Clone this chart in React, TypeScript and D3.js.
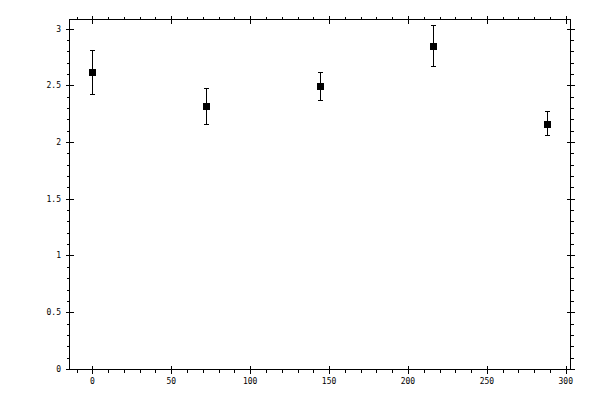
import React from "react";
import * as d3 from "d3";

const xValues = [0, 72, 144, 216, 288];
const yValues = [2.62, 2.32, 2.49, 2.85, 2.16];
const yUpper = [2.81, 2.48, 2.62, 3.03, 2.27];
const yLower = [2.42, 2.16, 2.37, 2.67, 2.06];
const xMajorTicks = [0, 50, 100, 150, 200, 250, 300];
const yMajorTicks = [0, 0.5, 1, 1.5, 2, 2.5, 3];

export default function App() {
  const W = 600, H = 400;
  const left = 69.5, right = 570.5, top = 19.5, bottom = 369.5;
  const x = d3.scaleLinear().domain([-14.5, 303]).range([left, right]);
  const y = d3.scaleLinear().domain([-0.005, 3.08]).range([bottom, top]);
  const xMinor = d3.range(-10, 301, 10).filter((v) => v % 50 !== 0);
  const yMinor = d3.range(1, 31).map((v) => v / 10).filter((v) => Math.round(v * 10) % 5 !== 0);
  const rx = (v: number) => Math.round(x(v)) + 0.5;
  const ry = (v: number) => Math.round(y(v)) + 0.5;
  const font = "'DejaVu Sans Mono', monospace";
  const maj = 4, mn = 3;
  return (
    <svg width={W} height={H} style={{ position: "absolute", left: 0, top: 0, background: "#fff" }}>
      <g stroke="#000" strokeWidth={1} shapeRendering="crispEdges" fill="none">
        <rect x={left} y={top} width={right - left} height={bottom - top} />
        {xMajorTicks.map((v) => (
          <g key={"xm" + v}>
            <line x1={rx(v)} x2={rx(v)} y1={bottom - maj} y2={bottom + maj} />
            <line x1={rx(v)} x2={rx(v)} y1={top - maj} y2={top + maj} />
          </g>
        ))}
        {xMinor.map((v) => (
          <g key={"xn" + v}>
            <line x1={rx(v)} x2={rx(v)} y1={bottom} y2={bottom + mn} />
            <line x1={rx(v)} x2={rx(v)} y1={top - mn} y2={top} />
          </g>
        ))}
        {yMajorTicks.map((v) => (
          <g key={"ym" + v}>
            <line x1={left - maj} x2={left + maj} y1={ry(v)} y2={ry(v)} />
            <line x1={right - maj} x2={right + maj} y1={ry(v)} y2={ry(v)} />
          </g>
        ))}
        {yMinor.map((v) => (
          <g key={"yn" + v}>
            <line x1={left - mn} x2={left} y1={ry(v)} y2={ry(v)} />
            <line x1={right} x2={right + mn} y1={ry(v)} y2={ry(v)} />
          </g>
        ))}
      </g>
      <g fontFamily={font} fontSize={8} fill="#000">
        {xMajorTicks.map((v) => (
          <text key={"xl" + v} x={x(v)} y={384} textAnchor="middle">{String(v)}</text>
        ))}
        {yMajorTicks.map((v) => (
          <text key={"yl" + v} x={61} y={y(v) + 3} textAnchor="end">{String(v)}</text>
        ))}
      </g>
      <g stroke="#000" strokeWidth={1} shapeRendering="crispEdges">
        {xValues.map((v, i) => (
          <g key={"e" + i}>
            <line x1={rx(v)} x2={rx(v)} y1={ry(yUpper[i])} y2={ry(yLower[i])} />
            <line x1={rx(v) - 2.5} x2={rx(v) + 2.5} y1={ry(yUpper[i])} y2={ry(yUpper[i])} />
            <line x1={rx(v) - 2.5} x2={rx(v) + 2.5} y1={ry(yLower[i])} y2={ry(yLower[i])} />
          </g>
        ))}
      </g>
      <g fill="#000" shapeRendering="crispEdges">
        {xValues.map((v, i) => (
          <rect key={"m" + i} x={Math.round(x(v)) - 3} y={Math.round(y(yValues[i])) - 3} width={7} height={7} />
        ))}
      </g>
    </svg>
  );
}
